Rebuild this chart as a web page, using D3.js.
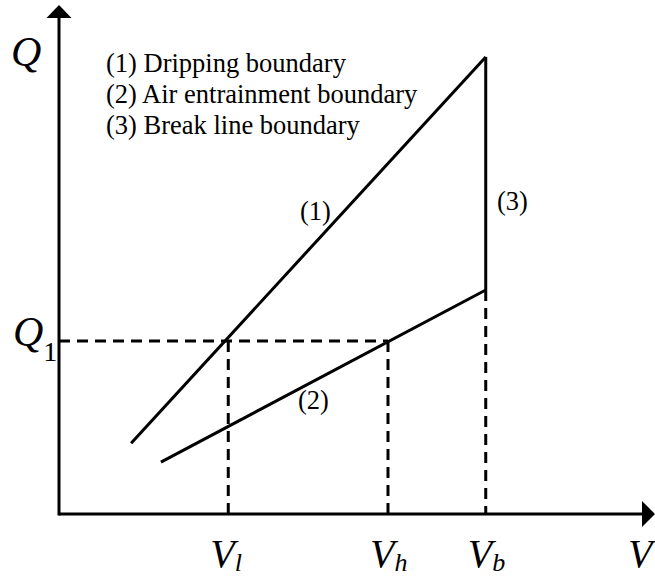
<!DOCTYPE html>
<html><head><meta charset="utf-8">
<script src="https://cdn.jsdelivr.net/npm/d3@7"></script>
<style>body{margin:0;background:#fff}svg{display:block}text{font-family:"Liberation Serif","Times New Roman",serif;fill:#000}</style>
</head><body>
<script>
// Schematic values (arbitrary units)
const legendLabels = ["(1) Dripping boundary", "(2) Air entrainment boundary", "(3) Break line boundary"];
const Vl = 28.4, Vh = 55.2, Vb = 71.6, Q1 = 34.0;
const line1 = [[12.1, 13.9], [Vb, 89.8]];   // dripping boundary
const line2 = [[17.1, 10.2], [Vb, 44.0]];   // air entrainment boundary
const line3 = [[Vb, 44.0], [Vb, 89.8]];     // break line boundary
const xTicks = [{v: Vl, sub: "l"}, {v: Vh, sub: "h"}, {v: Vb, sub: "b"}];

const W = 655, H = 579;
const svg = d3.select("body").append("svg").attr("width", W).attr("height", H);
const x = d3.scaleLinear().domain([0, 100]).range([59, 655]);
const y = d3.scaleLinear().domain([0, 100]).range([514, 5]);

const sw = 3;
const dash = "11,7";
const guides = [
  [[0, Q1], [Vh, Q1]],
  [[Vl, Q1], [Vl, 0]],
  [[Vh, Q1], [Vh, 0]],
  [[Vb, 44.0], [Vb, 0]]
];
const lineGen = d3.line().x(d => x(d[0])).y(d => y(d[1]));
svg.selectAll(".guide").data(guides).join("path").attr("class", "guide")
  .attr("d", lineGen).attr("stroke", "#000").attr("stroke-width", sw)
  .attr("stroke-dasharray", dash).attr("fill", "none");

// axes
svg.append("line").attr("x1", x(0)).attr("x2", x(100) - 12).attr("y1", y(0)).attr("y2", y(0))
  .attr("stroke", "#000").attr("stroke-width", sw);
svg.append("line").attr("x1", x(0)).attr("x2", x(0)).attr("y1", y(0) + 1.5).attr("y2", y(100) + 12)
  .attr("stroke", "#000").attr("stroke-width", sw);
svg.append("path").attr("d", `M${x(0)},${y(100)} L${x(0) - 12.5},${y(100) + 13} L${x(0) + 12.5},${y(100) + 13} Z`).attr("fill", "#000");
svg.append("path").attr("d", `M${x(100)},${y(0)} L${x(100) - 13},${y(0) - 13} L${x(100) - 13},${y(0) + 13} Z`).attr("fill", "#000");

// boundary lines
[line1, line2, line3].forEach(l => {
  svg.append("path").attr("d", lineGen(l)).attr("stroke", "#000").attr("stroke-width", sw)
    .attr("fill", "none").attr("stroke-linecap", "butt");
});

// legend
svg.selectAll(".leg").data(legendLabels).join("text").attr("class", "leg")
  .attr("x", 106).attr("y", (d, i) => 72 + i * 31).attr("font-size", 26.5).text(d => d);

// line labels
svg.append("text").attr("x", 300).attr("y", 220).attr("font-size", 26.5).text("(1)");
svg.append("text").attr("x", 497).attr("y", 210).attr("font-size", 26.5).text("(3)");
svg.append("text").attr("x", 298).attr("y", 409).attr("font-size", 26.5).text("(2)");

// axis labels
const it = svg.append("g").attr("font-style", "italic");
it.append("text").attr("x", 11).attr("y", 66).attr("font-size", 42).text("Q");
const q1 = it.append("text").attr("x", 13).attr("y", 346).attr("font-size", 42);
q1.append("tspan").text("Q");
q1.append("tspan").attr("font-style", "normal").attr("font-size", 28).attr("dy", 15).text("1");
it.append("text").attr("x", 628).attr("y", 567).attr("font-size", 40).text("V");
xTicks.forEach(t => {
  const tx = it.append("text").attr("x", x(t.v) - 18).attr("y", 567).attr("font-size", 40);
  tx.append("tspan").text("V");
  tx.append("tspan").attr("font-size", 26).attr("dy", 4).text(t.sub);
});
</script>
</body></html>
